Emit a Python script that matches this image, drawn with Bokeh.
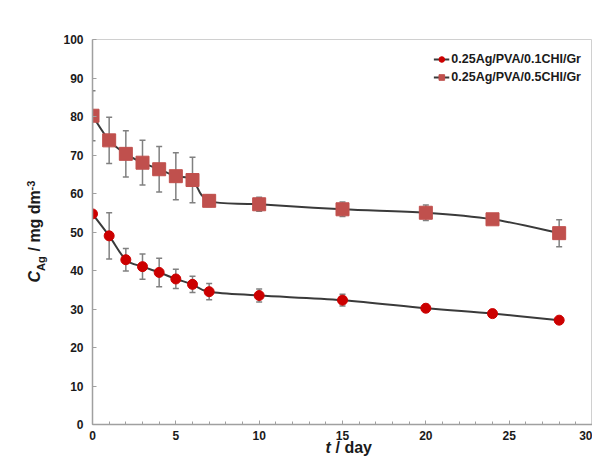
import numpy as np
from bokeh.plotting import figure
from bokeh.models import (ColumnDataSource, Whisker, TeeHead, Label, Legend, LegendItem,
                          Range1d, SingleIntervalTicker, FixedTicker)
from bokeh.embed import file_html
from bokeh.resources import INLINE

# ---- data ----
days = [0, 1, 2, 3, 4, 5, 6, 7, 10, 15, 20, 24, 28]
s1_name = "0.25Ag/PVA/0.1CHI/Gr"
s1_vals = [54.7, 49.0, 42.8, 41.0, 39.5, 37.8, 36.4, 34.5, 33.5, 32.3, 30.2, 28.8, 27.1]
s1_err = [0.5, 6.0, 2.9, 3.3, 3.7, 2.5, 2.1, 2.1, 1.7, 1.5, 1.0, 0.5, 0.5]
s2_name = "0.25Ag/PVA/0.5CHI/Gr"
s2_vals = [80.2, 73.8, 70.3, 68.0, 66.3, 64.5, 63.5, 58.1, 57.2, 55.9, 55.0, 53.3, 49.7]
s2_err = [6.5, 6.0, 6.0, 5.8, 5.9, 6.1, 5.9, 1.5, 1.8, 1.9, 2.0, 1.0, 3.5]
y_ticks = [0, 10, 20, 30, 40, 50, 60, 70, 80, 90, 100]

FONT = "Liberation Sans"
LINE_COLOR = "#3a3a3a"
ERR_COLOR = "#808080"
TXT = "#1a1a1a"

p = figure(width=592, height=460, output_backend="svg", toolbar_location=None,
           x_range=Range1d(0, 30), y_range=Range1d(0, 100),
           min_border_left=92, min_border_right=0, min_border_top=39, min_border_bottom=36)
p.grid.visible = False
p.outline_line_color = "#d0d0d0"
p.outline_line_width = 1

for ax in (p.xaxis[0], p.yaxis[0]):
    ax.axis_line_color = "#a0a0a0"
    ax.axis_line_width = 1.5
    ax.major_tick_line_color = "#a0a0a0"
    ax.minor_tick_line_color = "#a0a0a0"
    ax.major_tick_in = 4
    ax.major_tick_out = 0
    ax.minor_tick_in = 3
    ax.minor_tick_out = 0
    ax.major_label_text_font = FONT
    ax.major_label_text_font_style = "bold"
    ax.major_label_text_font_size = "12px"
    ax.major_label_text_color = TXT

p.xaxis.ticker = SingleIntervalTicker(interval=5, num_minor_ticks=5)
p.yaxis.ticker = FixedTicker(ticks=y_ticks, minor_ticks=[])
p.xaxis.major_label_standoff = 6
p.yaxis.major_label_standoff = 9


def bezier_src(xs, ys):
    P = list(zip(xs, ys))
    n = len(P)
    d = dict(x0=[], y0=[], x1=[], y1=[], cx0=[], cy0=[], cx1=[], cy1=[])
    for i in range(n - 1):
        p0 = P[i - 1] if i > 0 else P[i]
        p1 = P[i]
        p2 = P[i + 1]
        p3 = P[i + 2] if i + 2 < n else P[i + 1]
        d["x0"].append(p1[0]); d["y0"].append(p1[1])
        d["x1"].append(p2[0]); d["y1"].append(p2[1])
        d["cx0"].append(p1[0] + (p2[0] - p0[0]) / 6.0)
        d["cy0"].append(p1[1] + (p2[1] - p0[1]) / 6.0)
        d["cx1"].append(p2[0] - (p3[0] - p1[0]) / 6.0)
        d["cy1"].append(p2[1] - (p3[1] - p1[1]) / 6.0)
    return ColumnDataSource(d)


items = []
for name, vals, errs, marker, color, size in [
        (s1_name, s1_vals, s1_err, "circle", "#CC0000", 10),
        (s2_name, s2_vals, s2_err, "square", "#C0504D", 13)]:
    src = ColumnDataSource(dict(x=days, y=vals,
                                upper=[v + e for v, e in zip(vals, errs)],
                                lower=[v - e for v, e in zip(vals, errs)]))
    w = Whisker(source=src, base="x", upper="upper", lower="lower",
                line_color=ERR_COLOR, line_width=1.5,
                upper_head=TeeHead(size=6, line_color=ERR_COLOR, line_width=1.5),
                lower_head=TeeHead(size=6, line_color=ERR_COLOR, line_width=1.5))
    p.add_layout(w)
    p.bezier(x0="x0", y0="y0", x1="x1", y1="y1", cx0="cx0", cy0="cy0", cx1="cx1", cy1="cy1",
             source=bezier_src(days, vals), line_color=LINE_COLOR, line_width=2)
    sc = p.scatter("x", "y", source=src, marker=marker, size=size,
                   fill_color=color, line_color=color)
    leg_line = p.line(x=[np.nan], y=[np.nan], line_color=LINE_COLOR, line_width=2)
    items.append(LegendItem(label=name, renderers=[leg_line, sc]))

legend = Legend(items=items, location="top_right", margin=6, padding=5, spacing=0,
                label_height=18, glyph_height=14, glyph_width=16, label_standoff=2,
                border_line_alpha=0, background_fill_alpha=0,
                label_text_font=FONT, label_text_font_style="bold",
                label_text_font_size="12.5px", label_text_color=TXT)
p.add_layout(legend)

# ---- y axis label: C_Ag / mg dm^-3 (rotated pieces, each in its own left side panel) ----
ylab_y = 142
pieces = [
    ("C", 0, -9, "16px", "bold italic"),
    ("Ag", 11.6, 9, "11px", "bold"),
    ("/ mg dm", 31, 20, "16px", "bold"),
    ("-3", 92, 24, "11px", "bold"),
]
for txt, yoff, xpos, fs, style in pieces:
    p.add_layout(Label(x=xpos, y=ylab_y + yoff, x_units="screen", y_units="screen",
                       text=txt, angle=np.pi / 2, text_align="left", text_baseline="middle",
                       text_font=FONT, text_font_size=fs, text_font_style=style,
                       text_color=TXT), "left")

# ---- x axis label: t / day (pieces placed via the top side panels) ----
xlab_x = 233
p.add_layout(Label(x=xlab_x, y=-408, x_units="screen", y_units="screen", text="t",
                   text_align="left", text_baseline="middle", text_font=FONT,
                   text_font_size="16px", text_font_style="bold italic", text_color=TXT), "above")
p.add_layout(Label(x=xlab_x + 10, y=-425, x_units="screen", y_units="screen", text="/ day",
                   text_align="left", text_baseline="middle", text_font=FONT,
                   text_font_size="16px", text_font_style="bold", text_color=TXT), "above")

open("out.html", "w").write(file_html(p, INLINE))
